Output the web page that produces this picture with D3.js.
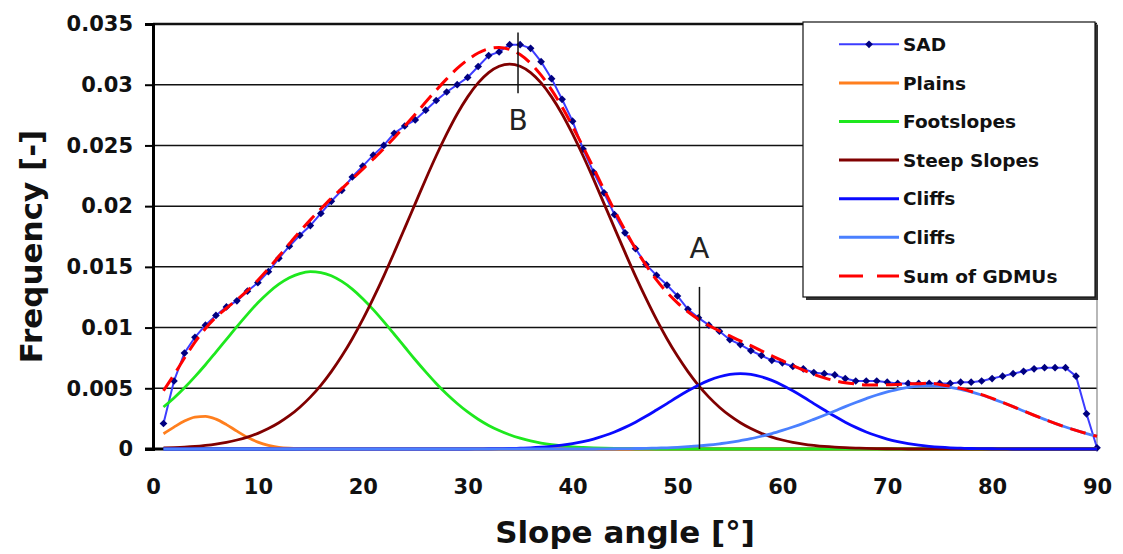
<!DOCTYPE html>
<html>
<head>
<meta charset="utf-8">
<script src="https://cdn.jsdelivr.net/npm/d3@7"></script>
<style>
  body { margin: 0; background: #fff; }
  text { font-family: 'DejaVu Sans', sans-serif; }
</style>
</head>
<body>
<div id="chart"></div>
<script>
// slope angle in degrees, 1..90
const angles = d3.range(1, 91);

const yTicks = [0, 0.005, 0.01, 0.015, 0.02, 0.025, 0.03, 0.035];
const yTickLabels = ['0', '0.005', '0.01', '0.015', '0.02', '0.025', '0.03', '0.035'];
const xTicks = [0, 10, 20, 30, 40, 50, 60, 70, 80, 90];

const sad = [
  0.0021, 0.0056, 0.0079, 0.0092, 0.0102, 0.011, 0.0117, 0.0122, 0.013, 0.0137,
  0.0146, 0.0157, 0.0167, 0.0176, 0.0184, 0.0194, 0.0204, 0.0213, 0.0224, 0.0233,
  0.0242, 0.025, 0.026, 0.0266, 0.0271, 0.0279, 0.0287, 0.0294, 0.03, 0.0306,
  0.0315, 0.0324, 0.0327, 0.0333, 0.0333, 0.033, 0.0319, 0.0305, 0.0288, 0.027,
  0.0247, 0.0228, 0.0211, 0.0193, 0.0178, 0.0165, 0.0152, 0.0143, 0.0135, 0.0126,
  0.0115, 0.0108, 0.0102, 0.0097, 0.009, 0.0086, 0.0081, 0.0077, 0.0073, 0.0071,
  0.0068, 0.0066, 0.0063, 0.0062, 0.0061, 0.0058, 0.0056, 0.0056, 0.0056, 0.0055,
  0.0054, 0.0054, 0.0054, 0.0054, 0.0054, 0.0054, 0.0055, 0.0055, 0.0056, 0.0058,
  0.006, 0.0062, 0.0064, 0.0066, 0.0067, 0.0067, 0.0067, 0.006, 0.0029, 0.0001
];

const plains = [
  0.00126, 0.0018, 0.0023, 0.00263, 0.00269, 0.00246, 0.00201, 0.00147, 0.00097, 0.00057,
  0.0003, 0.00014, 0.00006, 0.00002, 0, 0, 0, 0, 0, 0,
  0, 0, 0, 0, 0, 0, 0, 0, 0, 0,
  0, 0, 0, 0, 0, 0, 0, 0, 0, 0,
  0, 0, 0, 0, 0, 0, 0, 0, 0, 0,
  0, 0, 0, 0, 0, 0, 0, 0, 0, 0,
  0, 0, 0, 0, 0, 0, 0, 0, 0, 0,
  0, 0, 0, 0, 0, 0, 0, 0, 0, 0,
  0, 0, 0, 0, 0, 0, 0, 0, 0, 0
];

const footslopes = [
  0.00346, 0.0042, 0.00504, 0.00596, 0.00694, 0.00798, 0.00903, 0.01008, 0.01109, 0.01204,
  0.01287, 0.01357, 0.0141, 0.01445, 0.0146, 0.01453, 0.01427, 0.0138, 0.01317, 0.01238,
  0.01148, 0.01049, 0.00945, 0.0084, 0.00735, 0.00635, 0.0054, 0.00453, 0.00375, 0.00305,
  0.00245, 0.00194, 0.00152, 0.00117, 0.00089, 0.00066, 0.00049, 0.00036, 0.00026, 0.00018,
  0.00013, 0.00009, 0.00006, 0.00004, 0.00003, 0.00002, 0.00001, 0, 0, 0,
  0, 0, 0, 0, 0, 0, 0, 0, 0, 0,
  0, 0, 0, 0, 0, 0, 0, 0, 0, 0,
  0, 0, 0, 0, 0, 0, 0, 0, 0, 0,
  0, 0, 0, 0, 0, 0, 0, 0, 0, 0
];

const steepSlopes = [
  0.00008, 0.00011, 0.00015, 0.00021, 0.0003, 0.00041, 0.00055, 0.00074, 0.00098, 0.00129,
  0.00168, 0.00216, 0.00274, 0.00344, 0.00427, 0.00524, 0.00637, 0.00765, 0.00908, 0.01067,
  0.0124, 0.01424, 0.01619, 0.01819, 0.02021, 0.02222, 0.02415, 0.02595, 0.02759, 0.029,
  0.03015, 0.031, 0.03152, 0.0317, 0.03152, 0.031, 0.03015, 0.029, 0.02759, 0.02595,
  0.02415, 0.02222, 0.02021, 0.01819, 0.01619, 0.01424, 0.0124, 0.01067, 0.00908, 0.00765,
  0.00637, 0.00524, 0.00427, 0.00344, 0.00274, 0.00216, 0.00168, 0.00129, 0.00098, 0.00074,
  0.00055, 0.00041, 0.0003, 0.00021, 0.00015, 0.00011, 0.00008, 0.00005, 0.00003, 0.00002,
  0.00001, 0, 0, 0, 0, 0, 0, 0, 0, 0,
  0, 0, 0, 0, 0, 0, 0, 0, 0, 0
];

const cliffsA = [
  0, 0, 0, 0, 0, 0, 0, 0, 0, 0,
  0, 0, 0, 0, 0, 0, 0, 0, 0, 0,
  0, 0, 0, 0, 0, 0, 0, 0, 0, 0,
  0.00001, 0.00002, 0.00003, 0.00004, 0.00007, 0.0001, 0.00015, 0.00022, 0.00031, 0.00044,
  0.00061, 0.00082, 0.00109, 0.0014, 0.00178, 0.00221, 0.00269, 0.00321, 0.00374, 0.00428,
  0.00479, 0.00526, 0.00565, 0.00595, 0.00614, 0.0062, 0.00614, 0.00595, 0.00565, 0.00526,
  0.00479, 0.00428, 0.00374, 0.00321, 0.00269, 0.00221, 0.00178, 0.0014, 0.00109, 0.00082,
  0.00061, 0.00044, 0.00031, 0.00022, 0.00015, 0.0001, 0.00007, 0.00004, 0.00003, 0.00002,
  0.00001, 0, 0, 0, 0, 0, 0, 0, 0, 0
];

const cliffsB = [
  0, 0, 0, 0, 0, 0, 0, 0, 0, 0,
  0, 0, 0, 0, 0, 0, 0, 0, 0, 0,
  0, 0, 0, 0, 0, 0, 0, 0, 0, 0,
  0, 0, 0, 0, 0, 0, 0, 0, 0, 0,
  0, 0, 0.00001, 0.00002, 0.00003, 0.00004, 0.00005, 0.00008, 0.0001, 0.00014,
  0.00019, 0.00025, 0.00033, 0.00043, 0.00054, 0.00069, 0.00085, 0.00105, 0.00127, 0.00153,
  0.00181, 0.00211, 0.00244, 0.00278, 0.00313, 0.00349, 0.00383, 0.00415, 0.00445, 0.0047,
  0.00492, 0.00507, 0.00517, 0.0052, 0.00517, 0.00507, 0.00492, 0.0047, 0.00445, 0.00415,
  0.00383, 0.00349, 0.00313, 0.00278, 0.00244, 0.00211, 0.00181, 0.00153, 0.00127, 0.00105
];

const sumGdmu = [
  0.0048, 0.00611, 0.00749, 0.0088, 0.00993, 0.01085, 0.01159, 0.01229, 0.01304, 0.0139,
  0.01485, 0.01587, 0.0169, 0.01791, 0.01887, 0.01977, 0.02064, 0.02145, 0.02225, 0.02305,
  0.02388, 0.02473, 0.02564, 0.02659, 0.02756, 0.02857, 0.02955, 0.03048, 0.03134, 0.03205,
  0.03261, 0.03296, 0.03307, 0.03291, 0.03248, 0.03176, 0.03079, 0.02958, 0.02816, 0.02657,
  0.02489, 0.02313, 0.02137, 0.01964, 0.01802, 0.0165, 0.01514, 0.01393, 0.0129, 0.01203,
  0.0113, 0.01069, 0.01017, 0.00972, 0.00931, 0.0089, 0.00851, 0.00809, 0.00768, 0.00727,
  0.00687, 0.0065, 0.00615, 0.00586, 0.00562, 0.00545, 0.00535, 0.00528, 0.00527, 0.00529,
  0.00532, 0.00536, 0.00538, 0.00542, 0.00532, 0.00517, 0.00499, 0.00474, 0.00448, 0.00417,
  0.00384, 0.00349, 0.00313, 0.00278, 0.00244, 0.00211, 0.00181, 0.00153, 0.00127, 0.00105
];

// annotation markers: [angle, label, top value, bottom value]
const markerB = [34.8, 'B', 0.0343, 0.0293];
const markerA = [52.1, 'A', 0.01335, 0];

const series = [
  { name: 'Plains', values: plains, color: '#ff7f1e' },
  { name: 'Footslopes', values: footslopes, color: '#1ee81e' },
  { name: 'Steep Slopes', values: steepSlopes, color: '#800000' },
  { name: 'Cliffs', values: cliffsA, color: '#0a0aff' },
  { name: 'Cliffs', values: cliffsB, color: '#4a80ff' }
];

const render = () => {
  const width = 1123;
  const height = 554;
  const margin = { top: 24, right: 26, bottom: 105, left: 153 };
  const innerWidth = width - margin.left - margin.right;
  const innerHeight = height - margin.top - margin.bottom;

  const svg = d3
    .select('#chart')
    .append('svg')
    .attr('width', width)
    .attr('height', height);

  const xScale = d3.scaleLinear().domain([0, 90]).range([0, innerWidth]);
  const yScale = d3.scaleLinear().domain([0, 0.035]).range([innerHeight, 0]);

  const g = svg
    .append('g')
    .attr('transform', `translate(${margin.left}, ${margin.top})`);

  // gridlines
  g.append('g')
    .selectAll('line')
    .data(yTicks.slice(1))
    .enter()
    .append('line')
    .attr('x1', 0)
    .attr('x2', innerWidth)
    .attr('y1', (d) => yScale(d))
    .attr('y2', (d) => yScale(d))
    .attr('stroke', '#111')
    .attr('stroke-width', (d) => (d === 0.035 ? 2.5 : 1.5));

  // right border
  g.append('line')
    .attr('x1', innerWidth)
    .attr('x2', innerWidth)
    .attr('y1', 0)
    .attr('y2', innerHeight)
    .attr('stroke', '#888')
    .attr('stroke-width', 1.2);

  // x axis line
  g.append('line')
    .attr('x1', -8)
    .attr('x2', innerWidth)
    .attr('y1', innerHeight)
    .attr('y2', innerHeight)
    .attr('stroke', '#000')
    .attr('stroke-width', 3);

  // yAxis
  const yAxis = d3
    .axisLeft(yScale)
    .tickValues(yTicks)
    .tickFormat((d, i) => yTickLabels[i])
    .tickSize(8)
    .tickPadding(12);

  const yAxisGroup = g.append('g').call(yAxis);
  yAxisGroup.select('.domain').attr('stroke', '#000').attr('stroke-width', 3);
  yAxisGroup.selectAll('.tick line').attr('stroke', '#000').attr('stroke-width', 2);
  yAxisGroup
    .selectAll('.tick text')
    .style('font-family', "'DejaVu Sans', sans-serif")
    .style('font-weight', 'bold')
    .style('font-size', '21px')
    .attr('fill', '#111');

  // xAxis (labels only)
  const xAxis = d3.axisBottom(xScale).tickValues(xTicks).tickSize(0).tickPadding(30);
  const xAxisGroup = g
    .append('g')
    .attr('transform', `translate(0, ${innerHeight})`)
    .call(xAxis);
  xAxisGroup.select('.domain').remove();
  xAxisGroup
    .selectAll('.tick text')
    .style('font-family', "'DejaVu Sans', sans-serif")
    .style('font-weight', 'bold')
    .style('font-size', '21px')
    .attr('fill', '#111');

  // axis titles
  svg
    .append('text')
    .attr('x', margin.left + innerWidth / 2)
    .attr('y', 543)
    .attr('text-anchor', 'middle')
    .style('font-weight', 'bold')
    .style('font-size', '31px')
    .attr('fill', '#111')
    .text('Slope angle [°]');

  svg
    .append('text')
    .attr('transform', `translate(42, ${margin.top + innerHeight / 2 + 10}) rotate(-90)`)
    .attr('text-anchor', 'middle')
    .style('font-weight', 'bold')
    .style('font-size', '31px')
    .attr('fill', '#111')
    .text('Frequency [-]');

  const line = (curve) =>
    d3
      .line()
      .x((d, i) => xScale(angles[i]))
      .y((d) => yScale(d))
      .curve(curve);

  // SAD
  g.append('path')
    .datum(sad)
    .attr('d', line(d3.curveLinear))
    .attr('fill', 'none')
    .attr('stroke', '#3c3cff')
    .attr('stroke-width', 2);

  g.append('g')
    .selectAll('path')
    .data(sad)
    .enter()
    .append('path')
    .attr('d', d3.symbol(d3.symbolDiamond2, 38)())
    .attr('transform', (d, i) => `translate(${xScale(angles[i])}, ${yScale(d)})`)
    .attr('fill', '#000080');

  // GDMU components
  series.forEach((s) => {
    g.append('path')
      .datum(s.values)
      .attr('d', line(d3.curveMonotoneX))
      .attr('fill', 'none')
      .attr('stroke', s.color)
      .attr('stroke-width', 2.8);
  });

  // sum of GDMUs
  g.append('path')
    .datum(sumGdmu)
    .attr('d', line(d3.curveMonotoneX))
    .attr('fill', 'none')
    .attr('stroke', '#ff0000')
    .attr('stroke-width', 3)
    .attr('stroke-dasharray', '16,8');

  // markers A and B
  [markerB, markerA].forEach((m) => {
    g.append('line')
      .attr('x1', xScale(m[0]))
      .attr('x2', xScale(m[0]))
      .attr('y1', yScale(m[2]))
      .attr('y2', yScale(m[3]))
      .attr('stroke', '#111')
      .attr('stroke-width', 1.5);
  });

  g.append('text')
    .attr('x', xScale(markerB[0]))
    .attr('y', 106)
    .attr('text-anchor', 'middle')
    .style('font-size', '28px')
    .attr('fill', '#222')
    .text(markerB[1]);

  g.append('text')
    .attr('x', xScale(markerA[0]))
    .attr('y', 234)
    .attr('text-anchor', 'middle')
    .style('font-size', '29px')
    .attr('fill', '#222')
    .text(markerA[1]);

  // Legend
  const legendItems = [
    { name: 'SAD', color: '#3c3cff', marker: true },
    ...series.map((s) => ({ name: s.name, color: s.color })),
    { name: 'Sum of GDMUs', color: '#ff0000', dash: '24,14' }
  ];

  const legend = svg.append('g').attr('transform', 'translate(803, 22)');

  legend
    .append('rect')
    .attr('x', 3)
    .attr('y', 3)
    .attr('width', 292)
    .attr('height', 275)
    .attr('fill', '#333');

  legend
    .append('rect')
    .attr('width', 292)
    .attr('height', 275)
    .attr('fill', '#fff')
    .attr('stroke', '#111')
    .attr('stroke-width', 1.2);

  const item = legend
    .selectAll('.legend-item')
    .data(legendItems)
    .enter()
    .append('g')
    .attr('class', 'legend-item')
    .attr('transform', (d, i) => `translate(0, ${22.3 + i * 38.6})`);

  item
    .append('line')
    .attr('x1', 36)
    .attr('x2', 96)
    .attr('stroke', (d) => d.color)
    .attr('stroke-width', (d) => (d.marker ? 2 : 3))
    .attr('stroke-dasharray', (d) => d.dash || null);

  item
    .filter((d) => d.marker)
    .append('path')
    .attr('d', d3.symbol(d3.symbolDiamond2, 38)())
    .attr('transform', 'translate(66, 0)')
    .attr('fill', '#000080');

  item
    .append('text')
    .attr('x', 100)
    .attr('dy', '0.36em')
    .style('font-weight', 'bold')
    .style('font-size', '18.5px')
    .attr('fill', '#111')
    .text((d) => d.name);
};

render();
</script>
</body>
</html>
